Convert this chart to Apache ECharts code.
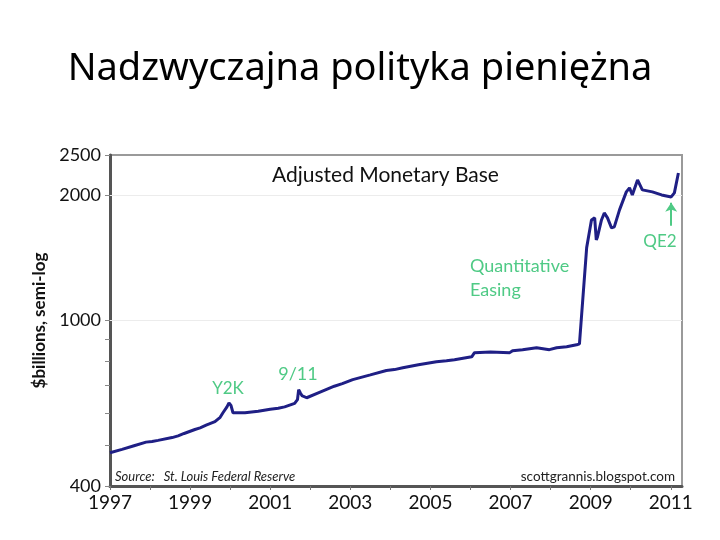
<!DOCTYPE html>
<html><head><meta charset="utf-8">
<script src="https://cdn.jsdelivr.net/npm/echarts@6/dist/echarts.min.js"></script>
<style>html,body{margin:0;padding:0;background:#fff}#c{width:720px;height:540px}</style>
</head><body><div id="c"></div>
<script>
const years = [1997.00,1997.30,1997.60,1997.90,1998.05,1998.20,1998.55,1998.70,1998.85,1999.12,1999.25,1999.40,1999.62,1999.75,1999.82,1999.92,1999.97,2000.02,2000.07,2000.37,2000.70,2001.00,2001.20,2001.36,2001.61,2001.68,2001.71,2001.76,2001.79,2001.91,2002.20,2002.60,2002.80,2003.06,2003.50,2003.90,2004.10,2004.31,2004.70,2005.15,2005.40,2005.60,2006.03,2006.10,2006.50,2006.98,2007.05,2007.30,2007.65,2007.97,2008.15,2008.40,2008.65,2008.72,2008.90,2009.02,2009.10,2009.14,2009.17,2009.27,2009.34,2009.42,2009.52,2009.59,2009.72,2009.89,2009.97,2010.04,2010.17,2010.29,2010.54,2010.77,2011.01,2011.09,2011.19];
const base  = [481,490,500,510,512,515,523,528,535,547,552,560,571,585,600,620,634,625,600,600,605,612,615,620,632,645,682,668,660,652,670,695,705,721,740,758,762,770,783,796,800,805,818,837,840,837,846,850,860,851,860,865,874,879,1497,1745,1765,1562,1589,1745,1814,1765,1670,1679,1845,2038,2084,2004,2178,2061,2038,2004,1982,2027,2263];
const xLabelYears = [1997,1999,2001,2003,2005,2007,2009,2011];
const xTickYears = [1997,1998,1999,2000,2001,2002,2003,2004,2005,2006,2007,2008,2009,2010,2011];
const yLabels = [400,1000,2000,2500];
const yTicks = [400,500,600,700,800,900,1000,2000,2500];
const gridValues = [1000,2000];
const qe2Arrow = [[2011.01,1689],[2011.01,1918]];

const green = '#4fca85';
const chart = echarts.init(document.getElementById('c'));
chart.setOption({
  backgroundColor:'#fff',
  animation:false,
  title:{text:'Nadzwyczajna polityka pieniężna',left:'center',top:45,
    textStyle:{fontFamily:'Noto Sans',fontSize:38,fontWeight:'normal',color:'#000'}},
  grid:{left:110,right:38,top:155,bottom:54,show:true,borderColor:'#9a9a9a',borderWidth:2,backgroundColor:'transparent'},
  xAxis:{type:'value',min:1997,max:2011.28,
    axisLine:{show:true,onZero:false,lineStyle:{color:'#555',width:3}},
    axisTick:{show:true,customValues:xTickYears,length:4,lineStyle:{color:'#777',width:1}},
    axisLabel:{customValues:xLabelYears,formatter:v=>String(v),color:'#111',fontFamily:'Lato',fontSize:19,margin:7},
    splitLine:{show:false}},
  yAxis:{type:'log',logBase:10,min:400,max:2500,
    name:'$billions, semi-log',nameLocation:'middle',nameGap:56,
    nameTextStyle:{fontFamily:'Lato',fontSize:17,fontWeight:'bold',color:'#111'},
    axisLine:{show:true,lineStyle:{color:'#555',width:3}},
    axisTick:{show:true,customValues:yTicks,length:5,lineStyle:{color:'#888',width:1}},
    axisLabel:{customValues:yLabels,formatter:v=>String(v),color:'#111',fontFamily:'Lato',fontSize:18,margin:9},
    splitLine:{show:false}},
  series:[
    {type:'line',data:years.map((y,i)=>[y,base[i]]),showSymbol:false,symbol:'none',
     lineStyle:{color:'#1f1f85',width:3},z:5,
     markLine:{silent:true,symbol:'none',label:{show:false},
       lineStyle:{color:'#ececec',width:1,type:'solid'},
       data:gridValues.map(v=>({yAxis:v}))}},
    {type:'line',data:[],symbol:'none',
     markLine:{silent:true,symbol:['none','arrow'],symbolSize:9,label:{show:false},
       lineStyle:{color:green,width:2,type:'solid'},
       data:[[{coord:qe2Arrow[0]},{coord:qe2Arrow[1]}]]}}
  ],
  graphic:[
    {type:'text',left:272,top:165,style:{text:'Adjusted Monetary Base',fontFamily:'Lato',fontSize:21,fill:'#111'}},
    {type:'text',x:228,y:389,style:{text:'Y2K',fontFamily:'Lato',fontSize:17,fill:green,align:'center',verticalAlign:'middle'}},
    {type:'text',x:298,y:374,style:{text:'9/11',fontFamily:'Lato',fontSize:18,fill:green,align:'center',verticalAlign:'middle'}},
    {type:'text',x:470,y:266,style:{text:'Quantitative',fontFamily:'Lato',fontSize:18,fill:green,verticalAlign:'middle'}},
    {type:'text',x:470,y:290,style:{text:'Easing',fontFamily:'Lato',fontSize:18,fill:green,verticalAlign:'middle'}},
    {type:'text',x:660,y:242,style:{text:'QE2',fontFamily:'Lato',fontSize:17,fill:green,align:'center',verticalAlign:'middle'}},
    {type:'text',x:115,y:477,style:{text:'Source:   St. Louis Federal Reserve',fontFamily:'Lato',fontStyle:'italic',fontSize:13,fill:'#222',verticalAlign:'middle'}},
    {type:'text',x:675,y:477,style:{text:'scottgrannis.blogspot.com',fontFamily:'Lato',fontSize:13.5,fill:'#222',align:'right',verticalAlign:'middle'}}
  ]
});
</script></body></html>
